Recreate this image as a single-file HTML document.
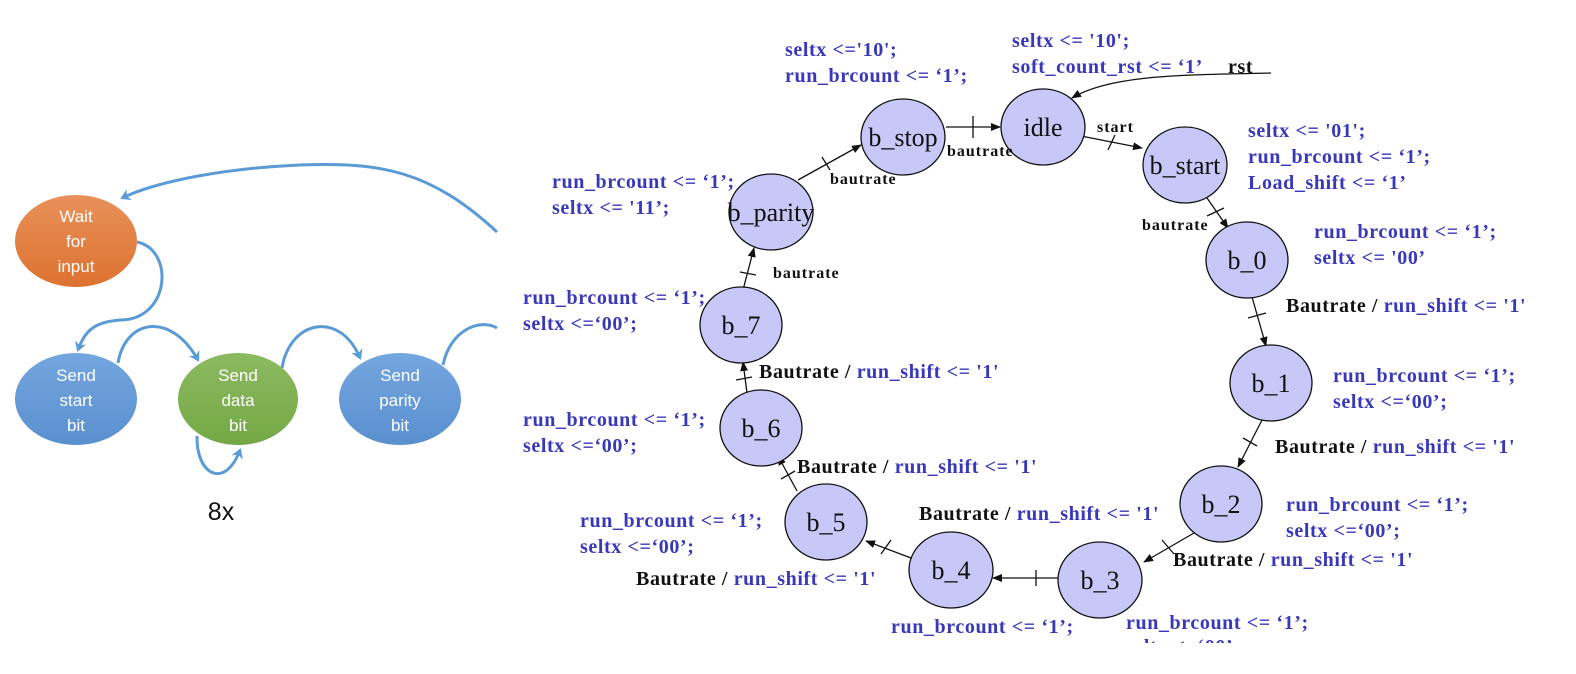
<!DOCTYPE html>
<html><head><style>
html,body{margin:0;padding:0;background:#fff;width:1576px;height:674px;overflow:hidden}
svg{display:block}
.b{font-family:"Liberation Serif",serif;font-weight:bold;font-size:20px;letter-spacing:0.6px;fill:#3838b8}
.k{font-family:"Liberation Serif",serif;font-weight:bold;font-size:20px;letter-spacing:0.6px;fill:#111}
.s{font-family:"Liberation Serif",serif;font-weight:bold;font-size:16px;letter-spacing:1px;fill:#111}
.n{font-family:"Liberation Serif",serif;font-size:26px;fill:#111;text-anchor:middle}
.w{font-family:"Liberation Sans",sans-serif;font-size:17px;fill:#fff;text-anchor:middle}
.st{fill:#c8c8f8;stroke:#111;stroke-width:1.3}
.ln{stroke:#111;stroke-width:1.3;fill:none}
.bl{stroke:#5b9bd5;stroke-width:3;fill:none}
</style></head><body>
<svg width="1576" height="674" viewBox="0 0 1576 674">
<defs>
<marker id="a" markerWidth="10" markerHeight="8" refX="9" refY="4" orient="auto" markerUnits="userSpaceOnUse"><path d="M0,0 L10,4 L0,8 Z" fill="#111"/></marker>
<marker id="ab" markerWidth="12" markerHeight="12" refX="8" refY="6" orient="auto" markerUnits="userSpaceOnUse"><path d="M0,0 L10,6 L0,12 L3,6 Z" fill="#5b9bd5"/></marker>
<linearGradient id="go" x1="0" y1="0" x2="0" y2="1"><stop offset="0" stop-color="#e8915a"/><stop offset="1" stop-color="#de7230"/></linearGradient>
<linearGradient id="gb" x1="0" y1="0" x2="0" y2="1"><stop offset="0" stop-color="#74a6df"/><stop offset="1" stop-color="#5a8fcf"/></linearGradient>
<linearGradient id="gg" x1="0" y1="0" x2="0" y2="1"><stop offset="0" stop-color="#8cba60"/><stop offset="1" stop-color="#74a845"/></linearGradient>
</defs>

<!-- left panel -->
<path class="bl" d="M497,232 C430,170 380,162 300,165 C230,168 160,180 122,198" marker-end="url(#ab)"/>
<path class="bl" d="M137,242 C175,250 170,320 120,320 C95,322 85,330 78,350" marker-end="url(#ab)"/>
<path class="bl" d="M118,363 C125,320 170,310 198,360" marker-end="url(#ab)"/>
<path class="bl" d="M282,368 C290,320 340,310 360,358" marker-end="url(#ab)"/>
<path class="bl" d="M443,365 C450,330 480,318 497,328"/>
<path class="bl" d="M197,436 C196,475 225,490 240,450" marker-end="url(#ab)"/>
<ellipse cx="76" cy="241" rx="61" ry="46" fill="url(#go)"/>
<text class="w" x="76" y="222">Wait</text><text class="w" x="76" y="247">for</text><text class="w" x="76" y="272">input</text>
<ellipse cx="76" cy="399" rx="61" ry="46" fill="url(#gb)"/>
<text class="w" x="76" y="381">Send</text><text class="w" x="76" y="406">start</text><text class="w" x="76" y="431">bit</text>
<ellipse cx="238" cy="399" rx="60" ry="46" fill="url(#gg)"/>
<text class="w" x="238" y="381">Send</text><text class="w" x="238" y="406">data</text><text class="w" x="238" y="431">bit</text>
<ellipse cx="400" cy="399" rx="61" ry="46" fill="url(#gb)"/>
<text class="w" x="400" y="381">Send</text><text class="w" x="400" y="406">parity</text><text class="w" x="400" y="431">bit</text>
<text x="221" y="520" style="font-family:'Liberation Sans',sans-serif;font-size:25px;fill:#111;text-anchor:middle">8x</text>

<!-- right FSM connectors -->
<path class="ln" d="M1271,73 C1180,75 1110,75 1072,98" marker-end="url(#a)"/>
<path class="ln" d="M946,127 L1000,127" marker-end="url(#a)"/><path class="ln" d="M973,116 L973,138"/>
<path class="ln" d="M1081,136 L1142,148" marker-end="url(#a)"/><path class="ln" d="M1115,135 L1108,150"/>
<path class="ln" d="M1207,198 L1228,228" marker-end="url(#a)"/><path class="ln" d="M1207,216 L1224,208"/>
<path class="ln" d="M1252,297 L1266,346" marker-end="url(#a)"/><path class="ln" d="M1248,318 L1266,313"/>
<path class="ln" d="M1262,420 L1238,467" marker-end="url(#a)"/><path class="ln" d="M1243,438 L1257,446"/>
<path class="ln" d="M1194,533 L1144,562" marker-end="url(#a)"/><path class="ln" d="M1162,540 L1174,554"/>
<path class="ln" d="M1058,578 L993,578" marker-end="url(#a)"/><path class="ln" d="M1036,570 L1036,586"/>
<path class="ln" d="M911,558 L866,541" marker-end="url(#a)"/><path class="ln" d="M881,554 L891,540"/>
<path class="ln" d="M797,491 L778,456" marker-end="url(#a)"/><path class="ln" d="M781,479 L795,471"/>
<path class="ln" d="M747,393 L743,362" marker-end="url(#a)"/><path class="ln" d="M736,380 L752,377"/>
<path class="ln" d="M743,290 L754,248" marker-end="url(#a)"/><path class="ln" d="M740,272 L756,275"/>
<path class="ln" d="M798,180 L861,145" marker-end="url(#a)"/><path class="ln" d="M822,157 L830,170"/>

<!-- nodes -->
<ellipse class="st" cx="903" cy="137" rx="42" ry="38"/><text class="n" x="903" y="146">b_stop</text>
<ellipse class="st" cx="1043" cy="127" rx="42" ry="38"/><text class="n" x="1043" y="136">idle</text>
<ellipse class="st" cx="1185" cy="165" rx="42" ry="38"/><text class="n" x="1185" y="174">b_start</text>
<ellipse class="st" cx="1247" cy="260" rx="41" ry="38"/><text class="n" x="1247" y="269">b_0</text>
<ellipse class="st" cx="1271" cy="383" rx="41" ry="38"/><text class="n" x="1271" y="392">b_1</text>
<ellipse class="st" cx="1221" cy="504" rx="41" ry="38"/><text class="n" x="1221" y="513">b_2</text>
<ellipse class="st" cx="1100" cy="580" rx="42" ry="38"/><text class="n" x="1100" y="589">b_3</text>
<ellipse class="st" cx="951" cy="570" rx="42" ry="38"/><text class="n" x="951" y="579">b_4</text>
<ellipse class="st" cx="826" cy="522" rx="41" ry="38"/><text class="n" x="826" y="531">b_5</text>
<ellipse class="st" cx="761" cy="428" rx="41" ry="38"/><text class="n" x="761" y="437">b_6</text>
<ellipse class="st" cx="741" cy="325" rx="41" ry="38"/><text class="n" x="741" y="334">b_7</text>
<ellipse class="st" cx="771" cy="212" rx="42" ry="38"/><text class="n" x="771" y="221">b_parity</text>

<!-- labels -->
<text class="b" x="785" y="56">seltx &lt;='10';</text>
<text class="b" x="785" y="82">run_brcount &lt;= ‘1’;</text>
<text class="b" x="1012" y="47">seltx &lt;= '10';</text>
<text class="b" x="1012" y="73">soft_count_rst &lt;= ‘1’</text>
<text class="k" x="1228" y="73">rst</text>
<text class="s" x="1097" y="132">start</text>
<text class="s" x="947" y="156">bautrate</text>
<text class="s" x="830" y="184">bautrate</text>
<text class="s" x="1142" y="230">bautrate</text>
<text class="s" x="773" y="278">bautrate</text>
<text class="b" x="1248" y="137">seltx &lt;= '01';</text>
<text class="b" x="1248" y="163">run_brcount &lt;= ‘1’;</text>
<text class="b" x="1248" y="189">Load_shift &lt;= ‘1’</text>
<text class="b" x="552" y="188">run_brcount &lt;= ‘1’;</text>
<text class="b" x="552" y="214">seltx &lt;= '11’;</text>
<text class="b" x="1314" y="238">run_brcount &lt;= ‘1’;</text>
<text class="b" x="1314" y="264">seltx &lt;= '00’</text>
<text class="b" x="523" y="304">run_brcount &lt;= ‘1’;</text>
<text class="b" x="523" y="330">seltx &lt;=‘00’;</text>
<text x="1286" y="312"><tspan class="k">Bautrate / </tspan><tspan class="b">run_shift &lt;= '1'</tspan></text>
<text x="759" y="378"><tspan class="k">Bautrate / </tspan><tspan class="b">run_shift &lt;= '1'</tspan></text>
<text class="b" x="1333" y="382">run_brcount &lt;= ‘1’;</text>
<text class="b" x="1333" y="408">seltx &lt;=‘00’;</text>
<text class="b" x="523" y="426">run_brcount &lt;= ‘1’;</text>
<text class="b" x="523" y="452">seltx &lt;=‘00’;</text>
<text x="1275" y="453"><tspan class="k">Bautrate / </tspan><tspan class="b">run_shift &lt;= '1'</tspan></text>
<text x="797" y="473"><tspan class="k">Bautrate / </tspan><tspan class="b">run_shift &lt;= '1'</tspan></text>
<text class="b" x="1286" y="511">run_brcount &lt;= ‘1’;</text>
<text class="b" x="1286" y="537">seltx &lt;=‘00’;</text>
<text x="919" y="520"><tspan class="k">Bautrate / </tspan><tspan class="b">run_shift &lt;= '1'</tspan></text>
<text class="b" x="580" y="527">run_brcount &lt;= ‘1’;</text>
<text class="b" x="580" y="553">seltx &lt;=‘00’;</text>
<text x="1173" y="566"><tspan class="k">Bautrate / </tspan><tspan class="b">run_shift &lt;= '1'</tspan></text>
<text x="636" y="585"><tspan class="k">Bautrate / </tspan><tspan class="b">run_shift &lt;= '1'</tspan></text>
<text class="b" x="891" y="633">run_brcount &lt;= ‘1’;</text>
<text class="b" x="1126" y="629">run_brcount &lt;= ‘1’;</text>
<text class="b" x="1126" y="653">seltx &lt;=‘00’;</text>
<rect x="880" y="643" width="420" height="31" fill="#fff"/>
</svg>
</body></html>
